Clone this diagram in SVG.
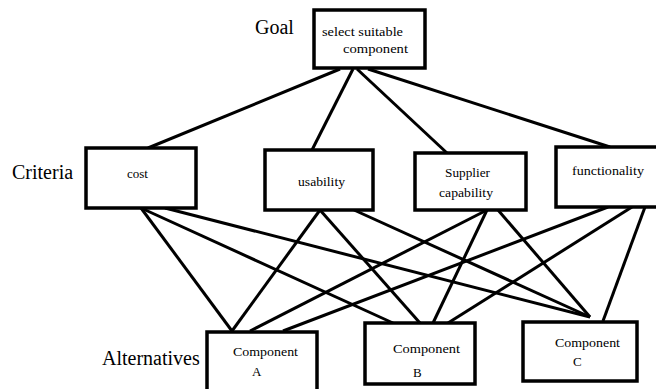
<svg xmlns="http://www.w3.org/2000/svg" width="656" height="389" viewBox="0 0 656 389">
<style>
.box{fill:#fff;stroke:#000;stroke-width:3.5}
text{font-family:'Liberation Serif','DejaVu Serif',serif;fill:#000}
.lab{font-size:20px}
.t{font-size:13px}
#connectors line{stroke:#000;stroke-width:3;stroke-linecap:butt}
</style>
<rect width="656" height="389" fill="#fff"/>
<g id="connectors">
<line x1="340" y1="69" x2="148" y2="148"/>
<line x1="353" y1="69" x2="312" y2="150"/>
<line x1="357" y1="69" x2="447" y2="153"/>
<line x1="368" y1="69" x2="610" y2="147"/>
<line x1="141" y1="208" x2="232" y2="331"/>
<line x1="141" y1="208" x2="393" y2="323"/>
<line x1="165" y1="208" x2="590" y2="317"/>
<line x1="320" y1="210" x2="232" y2="331"/>
<line x1="320" y1="210" x2="420" y2="323"/>
<line x1="354" y1="210" x2="590" y2="317"/>
<line x1="487" y1="210" x2="250" y2="331"/>
<line x1="487" y1="210" x2="433" y2="323"/>
<line x1="498" y1="210" x2="590" y2="317"/>
<line x1="608" y1="207" x2="283" y2="331"/>
<line x1="632" y1="207" x2="448" y2="323"/>
<line x1="645" y1="207" x2="603" y2="321"/>
</g>
<g id="goal">
<text class="lab" x="255" y="34" font-family="Liberation Serif, serif">Goal</text>
<rect class="box" x="314" y="10" width="111" height="58"/>
<text class="t" x="322" y="36" textLength="81" lengthAdjust="spacingAndGlyphs">select suitable</text>
<text class="t" x="343" y="53" textLength="65" lengthAdjust="spacingAndGlyphs">component</text>
</g>
<g id="criteria-label">
<text class="lab" x="12" y="179">Criteria</text>
</g>
<g id="cost">
<rect class="box" x="86" y="148" width="110" height="60"/>
<text class="t" x="127" y="178" textLength="21" lengthAdjust="spacingAndGlyphs">cost</text>
</g>
<g id="usability">
<rect class="box" x="265" y="150" width="108" height="60"/>
<text class="t" x="298" y="186" textLength="47" lengthAdjust="spacingAndGlyphs">usability</text>
</g>
<g id="supplier">
<rect class="box" x="415" y="153" width="111" height="57"/>
<text class="t" x="445" y="177" textLength="45" lengthAdjust="spacingAndGlyphs">Supplier</text>
<text class="t" x="439" y="197" textLength="54" lengthAdjust="spacingAndGlyphs">capability</text>
</g>
<g id="functionality">
<rect class="box" x="556" y="147" width="104" height="60"/>
<text class="t" x="572" y="175" textLength="72" lengthAdjust="spacingAndGlyphs">functionality</text>
</g>
<g id="alternatives-label">
<text class="lab" x="102" y="365">Alternatives</text>
</g>
<g id="compA">
<rect class="box" x="207" y="332" width="110" height="62"/>
<text class="t" x="233" y="356" textLength="65" lengthAdjust="spacingAndGlyphs">Component</text>
<text class="t" x="252" y="376">A</text>
</g>
<g id="compB">
<rect class="box" x="365" y="323" width="110" height="61"/>
<text class="t" x="393" y="353" textLength="67" lengthAdjust="spacingAndGlyphs">Component</text>
<text class="t" x="413" y="377">B</text>
</g>
<g id="compC">
<rect class="box" x="523" y="322" width="114" height="59"/>
<text class="t" x="555" y="347" textLength="65" lengthAdjust="spacingAndGlyphs">Component</text>
<text class="t" x="573" y="366">C</text>
</g>
</svg>
